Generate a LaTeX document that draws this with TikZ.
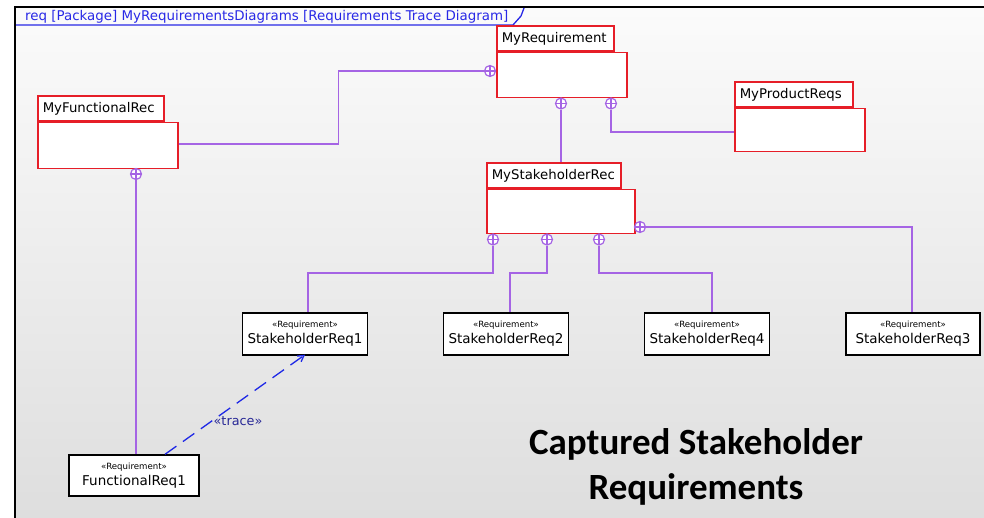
\documentclass[tikz,border=0pt]{standalone}
\usepackage{fontspec}
\setmainfont{DejaVu Sans}
\newfontfamily\capfont{Carlito}
\usetikzlibrary{arrows.meta,calc}

\definecolor{pkgred}{RGB}{230,30,40}
\definecolor{ownline}{RGB}{165,100,228}
\definecolor{tracebl}{RGB}{30,40,230}
\definecolor{tracelbl}{RGB}{40,40,150}
\definecolor{framebl}{RGB}{40,40,230}
\definecolor{bgtop}{RGB}{251,251,251}
\definecolor{bgbot}{RGB}{222,222,222}

\tikzset{
  pkgbody/.style={draw=pkgred, line width=1.5pt, fill=white, anchor=north west, inner sep=0pt},
  pkgtab/.style={draw=pkgred, line width=1.5pt, fill=white, anchor=south west, inner xsep=5pt, inner ysep=0pt,
    align=left, font=\fontsize{13.3}{15}\selectfont, minimum height=25pt},
  reqbox/.style={draw=black, line width=1.4pt, fill=white, align=center, inner sep=0pt,
    minimum height=42pt, font=\fontsize{13.5}{15}\selectfont},
  cont/.style={draw=ownline, line width=1.7pt},
  own/.style={circle, draw=ownline, line width=1.2pt, fill=white, inner sep=0pt, minimum size=11pt,
    path picture={\draw[ownline, line width=1.1pt]
      (path picture bounding box.north) -- (path picture bounding box.south)
      (path picture bounding box.west) -- (path picture bounding box.east);}},
  trace/.style={draw=tracebl, line width=1.3pt, dash pattern=on 14pt off 8pt,
    -{Straight Barb[length=6pt,width=7pt]}},
}

\newcommand{\stereotxt}{{\fontsize{8.6}{10}\selectfont «Requirement»}}

\begin{document}
\begin{tikzpicture}[x=1pt,y=-1pt]
  \useasboundingbox (0,0) rectangle (984,518);
  \fill[white] (0,0) rectangle (984,518);

  % diagram frame with shaded canvas
  \shade[top color=bgtop, bottom color=bgbot] (15,8) rectangle (984,518);
  \draw[black, line width=2pt] (15,518) -- (15,7.5) -- (984,7.5);
  \node[anchor=west, inner sep=0pt, text=framebl, font=\fontsize{13.4}{15}\selectfont] (title) at (25,16.5)
    {req [Package] MyRequirementsDiagrams [Requirements Trace Diagram]};
  \draw[framebl, line width=1.3pt] (16,25) -- (513,25) -- (521,16) -- (524,8);

  % package elements
  \node[pkgbody, minimum width=130pt, minimum height=45pt] (req) at (496,52) {};
  \node[pkgtab, text width=107pt] (reqtab) at (req.north west) {MyRequirement};

  \node[pkgbody, minimum width=140pt, minimum height=46pt] (fr) at (37,122) {};
  \node[pkgtab, text width=116pt] (frtab) at (fr.north west) {MyFunctionalRec};

  \node[pkgbody, minimum width=130pt, minimum height=43pt] (prod) at (734,108) {};
  \node[pkgtab, text width=108pt] (prodtab) at (prod.north west) {MyProductReqs};

  \node[pkgbody, minimum width=148pt, minimum height=44pt] (srec) at (486,189) {};
  \node[pkgtab, text width=124pt] (srectab) at (srec.north west) {MyStakeholderRec};

  % requirement elements
  \node[reqbox, minimum width=125pt] (sr1) at (305,334) {\stereotxt\\[1pt]StakeholderReq1};
  \node[reqbox, minimum width=125pt] (sr2) at (506,334) {\stereotxt\\[1pt]StakeholderReq2};
  \node[reqbox, minimum width=125pt] (sr4) at (707,334) {\stereotxt\\[1pt]StakeholderReq4};
  \node[reqbox, minimum width=134pt] (sr3) at (913,334) {\stereotxt\\[1pt]StakeholderReq3};
  \node[reqbox, minimum width=130pt, minimum height=41pt] (fq) at (134,475.5) {\stereotxt\\[1pt]FunctionalReq1};

  % containment owner ends
  \node[own] (c1) at (490,71) {};
  \node[own] (c2) at (561,103.5) {};
  \node[own] (c3) at (611,103.5) {};
  \node[own] (c8) at (136,174) {};
  \node[own] (c4) at (493,239.5) {};
  \node[own] (c5) at (547,239.5) {};
  \node[own] (c6) at (599,239.5) {};
  \node[own] (c7) at (640,227) {};

  % containment connectors
  \draw[cont] (fr.east) ++(0,-2) -- ++(160,0) |- (c1.west);
  \draw[cont] (c2.south) -- (c2.south |- srectab.north);
  \draw[cont] (c3.south) |- ([yshift=-1.5pt]prod.west);
  \draw[cont] (c4.south) -- ++(0,27.5) -| ([xshift=3pt]sr1.north);
  \draw[cont] (c5.south) -- ++(0,27.5) -| ([xshift=4pt]sr2.north);
  \draw[cont] (c6.south) -- ++(0,27.5) -| ([xshift=5pt]sr4.north);
  \draw[cont] (c7.east) -| ([xshift=-1pt]sr3.north);
  \draw[cont] (c8.south) -- (c8.south |- fq.north);

  % trace dependency
  \draw[trace] ([xshift=31pt]fq.north) -- ([yshift=1pt]sr1.south);
  \node[text=tracelbl, font=\fontsize{12.8}{14}\selectfont, inner sep=0pt] (tracelabel) at (238,421) {«trace»};

  % caption
  \node[font=\capfont\bfseries\fontsize{37}{45}\selectfont, align=center, inner sep=0pt] (caption) at (696,467)
    {Captured Stakeholder\\Requirements};
\end{tikzpicture}
\end{document}
